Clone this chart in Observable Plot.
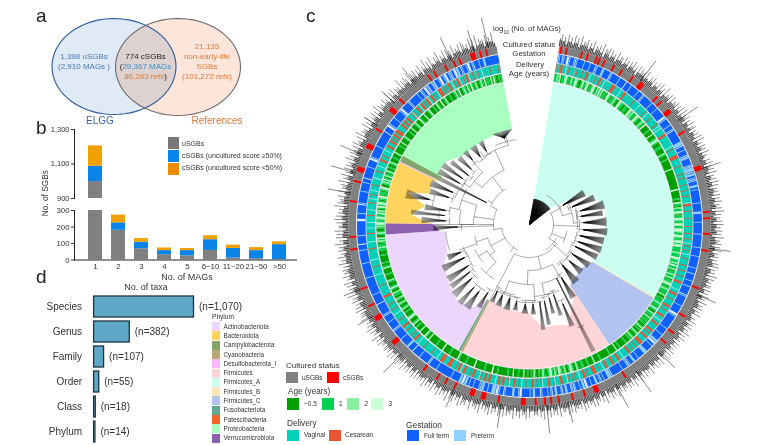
<!DOCTYPE html>
<html><head><meta charset="utf-8">
<script src="https://cdn.jsdelivr.net/npm/d3@7"></script>
<script src="https://cdn.jsdelivr.net/npm/@observablehq/plot@0.6"></script>
<style>
html,body{margin:0;padding:0;background:#fff;overflow:hidden}
body{width:783px;height:445px;position:relative;font-family:"Liberation Sans",Arial,sans-serif;color:#333}
.t{position:absolute;white-space:nowrap;line-height:1}
.s{position:absolute}
.p{position:absolute}
.p svg{display:block;max-width:none;background:transparent;overflow:hidden}
</style></head><body>
<script>
// ---------- DATA ----------
const sgbBins = ["1","2","3","4","5","6~10","11~20","21~50",">50"];
const uSGBs   = [998,180,68,32,25,58,12,8,3];
const cHigh   = [89,45,40,25,32,65,58,49,90];
const cLow    = [118,47,22,16,13,24,20,18,17];
const taxaRanks = ["Species","Genus","Family","Order","Class","Phylum"];
const taxaCounts = [1070,382,107,55,18,14];
const taxaLabels = ["(n=1,070)","(n=382)","(n=107)","(n=55)","(n=18)","(n=14)"];
const phylumNames = ["Actinobacteriota","Bacteroidota","Campylobacterota","Cyanobacteria","Desulfobacterota_I","Firmicutes","Firmicutes_A","Firmicutes_B","Firmicutes_C","Fusobacteriota","Patescibacteria","Proteobacteria","Verrucomicrobiota"];
const phylumColors = ["#ecd6fb","#ffd45e","#83a66c","#b8a878","#ffb3ff","#ffd5d8","#ccfff2","#ffe5b5","#b3c3f0","#66a892","#f26529","#a8ffc0","#9060b0"];
// clockwise sector of each phylum on the tree, degrees from the top
const sectorPhylum = ["Firmicutes_A","Firmicutes_B","Firmicutes_C","Firmicutes","Cyanobacteria","Fusobacteriota","Actinobacteriota","Verrucomicrobiota","Bacteroidota","Desulfobacterota_I","Campylobacterota","Proteobacteria"];
const sectorStart  = [9.5,120.2,120.7,146.4,207.6,208.6,209.5,266,270.5,295.5,296,298.5];
const sectorEnd    = [120.2,120.7,146.4,207.6,208.6,209.5,266,270.5,295.5,296,298.5,349.6];
// how far the tree tips reach at each angle
const reachAngle = [9.5,10,40,53,60,62.6,70,78,92,103.7,114,120.2,130,146.4,150,153,158.7,165,172,181.5,190,198,207.6,209.5,214,223.6,231.6,244.4,251.4,265,266,270.5,272,275,280,284.8,287,294.3,295.5,296,298.5,300,306.6,315.7,329,342.6,349.6];
const reachDepth = [0,26,26,28,59,63,72,77,76,75,76,73,68,73,88,92,108,104,104,88,88,87,86,86,100,105,101,95,87,84,90,97,106,119,106,126,105,107,100,100,100,105,105,96,96,97,97];
// tree: node arcs [depth, from, to], stems [angle, depth0, depth1], tip fans [from, to, node depth, tip depth]
const treeArcs = [[24,62,125],[34,32,75],[44,62,88],[48,72,96],[38,100,118],[30,118,146],[50,122,145],[33,125,207],[46,150,182],[60,150,168],[72,156,176],[60,176,200],[78,176,190],[74,190,207],[28,205,262],[44,232,252],[56,248,258],[50,222,238],[60,232,245],[65,213,228],[36,262,295],[56,270,290],[72,282,296],[70,270.5,282],[43,297,325],[60,308,335],[82,326,345],[70,302,318],[84,252,265]];
const treeStems = [[62,24,34],[75,34,44],[62,44,52],[88,44,48],[92,24,50],[112,24,38],[125,24,33],[130,30,50],[165,33,46],[150,46,60],[168,60,72],[182,46,60],[176,60,78],[200,60,74],[207.5,33,86],[215,28,33],[241,28,44],[252,44,56],[250,56,75],[232,44,50],[238,50,60],[222,50,65],[262,28,36],[268,36,96],[270,36,96],[278,36,56],[290,56,72],[282,72,82],[270,56,70],[295,36,43],[322,43,60],[335,60,82],[345,82,93],[326,82,88],[308,60,70],[318,70,86],[302,70,78],[300,43,48]];
const treeFans = [[9.5,53,0,26],[57,63,32,63],[65,70,40,70],[72,78,46,77],[79,83,52,74],[85,91,54,77],[93,98,50,78],[100,105,46,76],[107,112,42,76],[113.5,118,26,75],[122,127,52,72],[130,135,54,70],[138,144,52,74],[147,151,62,85],[152.5,154,60,142],[156,158.5,76,110],[160,162,74,96],[164,166,76,92],[168,170,78,102],[171.5,173.5,78,106],[176,179,80,90],[181,185,80,89],[188,191,78,87],[193,197,76,88],[199,203,76,87],[204.5,207,74,86],[210,213,80,97],[215,219,84,104],[220,223,84,105],[225,229,76,103],[230,233,72,100],[234,238,68,98],[241,245,72,97],[246,250,74,88],[266.5,269.5,45,96],[271,274,75,108],[275,277,85,119],[278,281,85,106],[282,286,92,127],[287,290,85,105],[291,294.5,80,107],[296,298,48,100],[299,302,75,105],[303,306,75,105],[307.5,310,78,100],[312,315,80,97],[317,320,86,97],[322,326,84,96],[328,331,85,96],[338,349.6,90,97]];
// rings, half-degree tips from 9.5 degrees on
const ageTips = ["bbcbdabbcdbbacbbdcba","abdbbcdabbcdbacbdbca","bbadcbabbcbaacdbbaab","baacdbcbbadcbaabcbad","aaaabaaacaaabcdbaaab","baaaacbaaabaaaaaaaca","aaaaaaaaaaaaaadaaaaa","abaadbbacbbdcabbdcbb","cdbbcdcbbdcbbcdbcdbb","bbcbbbdcbbcbdbbcabbc","bbcabbcdbabcbbabcaab","abbcbbabdbaacbbacbab","babaabcabaacbaabcaba","aabaaaaabaacaaaaabaa","aaaaabaaaacaaaabaaab","baabcaabcdbaacbabcda","bcabdcbaabcbabaabcab","aabaacaaabaaacaaabaa","aaaaabaaadaaaaabaaaa","aaadaaaaaabaaaaabdaa","aaaabaaaaadaaaaabaaa","aaacaabdaaaacaaabaac","baaacdbaaabaacbaabca","abcaabbcaabdbaaabcaa","aabaaaacbaabaaaaabaa","abbcbbabcbdaabcbaabc","bdcbbcdbbdbcabdbcdba","bcdabbabcdaabcbdbacb","abcaabaabcaaabaaacaa","aaabaacaaabcaaaabaac","aaabcaaadbaaacaaabda","aabaacbaadaabcaaabaa","abcabdaabcbacbadbabc","aabcbadabbacadbaabab"].join("");
const deliveryTips = ["rgtrrgtwgrtttggrtttr","gtrrtwttgrttrrgtwtgt","ttrrrtgttwttrrtttgtt","trttttwttgttrtwtttrt","ttttrtwtwttttrrttttt","tttwtrttttrrrtttttrt","ttttrttrttttrtttrttt","rttttwrrtttrttttrttt","ttrttttrtttrttwtrttr","ttwttrttttrtttrtttrt","ttrrttttwttrrtttrttt","trrttrtttrrttwttrrtt","ttrrtrttrrtttrrrttrt","trttrrttttwttrrtttrr","tttrrtwttrttrrrtttrt","rrttwttrtrttrwtttrrt","ttwrttrrtttwrttrttrr","tttrttwtrttrrttwrttr","rtrrtwtttrrtrrttrwtt","trrtrtttrrtwrrtrtttr","rrtttrrrttwttttrtttt","ttrttttwttrrttrttttr","ttrrttttrttttwtttrtt","trtttttrrtttttttrttt","ttttwtttttrttttwtttt","tttrttttwtttttrtttwt","ttwttttrtttwttttrttw","ttrttwtttrttttwttttr","tttwtttrrttrtttwttrr","ttrrtrtrrtrrrtttrrtr","rtrrtttrwrttrrtwrrtr","trrwtrrtrttwrrrtrtrt","rrtwgrtrrwtgrtrrwtgr","tggrttwgttttrtgtttrg"].join("");
const gestationTips = ["wpfwpfwwpffpwpffffpf","ffpfffwpfffppffffwpf","ffffpffffwfffpfffffp","fffwpffffffpffffpfff","fffwwpffffpffpwfffff","fffpppwffpfffwppffff","pwpppwppfpwpffppfpff","ffffffpfffffppfffffp","fffffffpffffffffpfff","ffpfffffffpfffpffffp","fffpfffffwpffffffpff","fffwwpfffffffffpffff","pffffppwwfpffffpppff","ffpffppffpwpfffpffff","fffwpppffpfwpfppffpf","fwwppfpffpwpwffppfwp","ffppfwpfpfffpwfffppf","pfffffwwpffppffffpwf","fpwwpppffpffppwpfffp","ffpfppwwppfffffpffff","ffffffpfffffpwffffff","pfffffwfffppfffffpff","ffffpwfffffpffffwpff","fffffwffffffpfffffff","ffffpfffffffffpfffff","fffpfffwfffffpffffff","fffwwfffpfffffwpffff","fffpfffffpffwfffffff","pffffwwpfffffffpffff","ffffffwfffwwpffffpff","fffpwwfffffwpffffffp","ffwpfwwpwffwppffpwwf","pwwfpwpfwwppfwpffpww","fpwfffpffppfffffffff"].join("");
const cSGBAngles = [10.2,12,17,19,22,23,24.7,28,31,35,45,47,59,86,88,93,98.4,110.7,120.7,127,131,147.8,162,166,170.5,173,175,178,190,204.7,208,211,216,243,249,262,266,277.5,284,302,314,325.8,328,332,335,337,344,346];
const cSGBWideAngles = [38.6,51,71.6,158,182,195,198.7,229,238.5,288,296,309.8,341.5];
const magHeights = ["8c5a3d6b4e7c3f6a9d4b","6e3a8c5f2b9d4c7a3e6b","a4d7b3c8e5a2d6c9b4e7","5b8d3a6c4e7b2f5a8c3d","6a9c4b7d3e5a8c2b6d4a","c3a7b5d2e6a4c8b3d5a7","4b6d3a8c5e2a7b4d6c3a","8a5c3b6d4a7c2e5b3a6c","3d6a4c7b2e5a8c3b6d4a","7b3a5c8d2a6b4e3c7a5b","a4c6b2d7a3e5b8c3a6d4","5a7d3b8c4a6e2b5d7a3c","6b4a8d3c5e7a2d6b4c8a","3e7a5c4b8d2a6e3b7c4a","9c4a6e3b7d5a2f6c3a8d","4d8a5c7e3b6a9d4c2e7a","a5e3c8b4d6a2f7c4b9a5","6c3e9a4d7b3e5a8c2d6b","d4a7c3e8b5a3f6c9a4e7","5b9c3e6a4d8b3f5a7c4e","7a4d2b6c3e5a8b4c2d6a","3c7b4e2a8d5b3c6e4a7b","b5a8d3c6f2a7c4e8b3a6","4d6b9a3e5c7a2d8b4f6a","8b3c6e2a7d5b9c4a3e6b","5e7a4c8b3f6a2d7c5e3a","a6c3e8d4b7a5f2c9a6d4","7d4a9c5f3b8e2a6d4c8a","4f7b3d9a6c2e8a5d3g7b","9a5e3c7g4a8d2b6f3c9a","6d8a4f2c7e3b9a5g4c8d","a3f6c9d4b7e2a8g5c3f7","5c8g3a7e4d9b3f6a8d4e","b7a4f8d3g5c9a3e7b6f4"].join("");
const tallMagAngles  = [37.7,55,72,97.6,112.8,134.6,144,151.6,167.7,174.5,189,204.6,224.6,239.6,249,280,286.5,292.7,303,312,321,334.5,342.3,346.9];
const tallMagHeights = [26,24,20,22,21,23,26,27,22,29,25,20,27,18,18,24,26,24,15,18,21,26,23,31];
const ringCats = ["uSGBs","cSGBs","~0.5","1","2","3","Vaginal","Cesarean","Full term","Preterm","paleDelivery","paleGestation","mixed"];
const ringColors = ["#808080","#ff0000","#00a000","#00d050","#88f0a0","#ccffd8","#00d0b8","#e85535","#1060ff","#90d0ff","#b5efe6","#dcecff","#6fb0a4"];

// ---------- HELPERS ----------
const FONT = '"Liberation Sans",Arial,sans-serif';
const body = document.body;
function text(str,x,y,size,o={}){
  const d=document.createElement("div");d.className="t";d.innerHTML=str;
  d.style.fontSize=size+"px";d.style.color=o.color||"#333";
  d.style.top=(y-size/2)+"px";
  if(o.anchor==="middle"){d.style.left=x+"px";d.style.transform="translateX(-50%)"}
  else d.style.left=x+"px";
  if(o.rotate){d.style.left=x+"px";d.style.transform="translate(-50%,0) rotate(-90deg)"}
  body.appendChild(d);
}
function swatch(x,y,w,h,c){const d=document.createElement("div");d.className="s";
  Object.assign(d.style,{left:x+"px",top:y+"px",width:w+"px",height:h+"px",background:c});body.appendChild(d)}
function place(fig,x,y){const d=document.createElement("div");d.className="p";d.style.left=x+"px";d.style.top=y+"px";d.appendChild(fig);body.appendChild(d)}
const style={fontFamily:FONT,background:"transparent",color:"#333"};

// ---------- a: Venn ----------
function ellipse(name,cx,cy,rx,ry){return d3.range(0,73).map(i=>({name,x:cx+rx*Math.cos(i*Math.PI/36),y:cy+ry*Math.sin(i*Math.PI/36)}))}
const refs=ellipse("References",177.5,66.5,62.5,48.5), elgg=ellipse("ELGG",113.5,66,62,48);
place(Plot.plot({width:290,height:130,margin:0,style,
  x:{domain:[0,290],axis:null},y:{domain:[130,0],axis:null},
  marks:[
   Plot.line(refs,{x:"x",y:"y",fill:"#fde6d9",stroke:"none",mixBlendMode:"multiply"}),
   Plot.line(elgg,{x:"x",y:"y",fill:"#e0e9f6",stroke:"none",mixBlendMode:"multiply"}),
   Plot.line(elgg,{x:"x",y:"y",stroke:"#2c5a9c",strokeWidth:1.1}),
   Plot.line(refs,{x:"x",y:"y",stroke:"#6a6a6a",strokeWidth:1.1})
  ]}),0,0);
const BLUE="#4a7cb8",ORG="#e07a3a";
text("a",36,15,19,{color:"#222"});
text("1,398 uSGBs",84,57,8,{anchor:"middle",color:BLUE});
text("(2,910 MAGs )",84,66.5,8,{anchor:"middle",color:BLUE});
text("774 cSGBs",145.5,57,8,{anchor:"middle",color:"#222"});
text('(<span style="color:#3a8fc8">29,367 MAGs</span>',145.5,66.5,8,{anchor:"middle",color:"#222"});
text('<span style="color:#e07a3a">86,283 refs</span>)',145.5,77,8,{anchor:"middle",color:"#222"});
text("21,135",207,47,8,{anchor:"middle",color:ORG});
text("non-early-life",207,57,8,{anchor:"middle",color:ORG});
text("SGBs",207,67,8,{anchor:"middle",color:ORG});
text("(101,272 refs)",207,77,8,{anchor:"middle",color:ORG});
text("ELGG",100,121,10,{anchor:"middle",color:"#3a66ac"});
text("References",217,121,10,{anchor:"middle",color:"#e0763a"});

// ---------- b: broken stacked bars ----------
const sgbRows=sgbBins.flatMap((b,i)=>[{bin:b,series:"uSGBs",n:uSGBs[i]},{bin:b,series:"high",n:cHigh[i]},{bin:b,series:"low",n:cLow[i]}]);
const barColor={domain:["uSGBs","high","low"],range:["#808080","#0a84e8","#f0a000"]};
const xBins={domain:sgbBins,range:[76.2,297.3],padding:0.4};
const commaFormat=d=>d3.format(",")(d);
place(Plot.plot({width:300,height:86,marginLeft:74,marginRight:3,marginTop:9,marginBottom:8,style:{...style,fontSize:"7.5px"},
  x:{...xBins,axis:null},color:barColor,
  y:{domain:[900,1300],ticks:[900,1100,1300],tickFormat:commaFormat,label:null,tickSize:3,tickPadding:2},
  marks:[Plot.barY(sgbRows,{x:"bin",y:"n",fill:"series",clip:true}),Plot.frame({anchor:"left",stroke:"#222"})]}),0,120);
place(Plot.plot({width:300,height:70,marginLeft:74,marginRight:3,marginTop:5,marginBottom:15.5,style:{...style,fontSize:"7.8px"},
  x:{...xBins,label:null,tickSize:0,tickPadding:3},color:barColor,
  y:{domain:[0,300],ticks:[0,100,200,300],label:null,tickSize:3,tickPadding:2},
  marks:[Plot.barY(sgbRows,{x:"bin",y:"n",fill:"series",clip:true}),Plot.frame({anchor:"left",stroke:"#222"}),Plot.ruleY([0],{stroke:"#222",strokeWidth:1.1})]}),0,205);
text("b",36,127,19,{color:"#222"});
text("No. of SGBs",45,193,8.3,{rotate:true});
text("No. of MAGs",187,277,9,{anchor:"middle"});
swatch(168,137,11,12,"#777");swatch(168,150,11,12,"#0a84ea");swatch(168,163,11,12,"#ea8c00");
text("uSGBs",182,143,7);text("cSGBs (uncultured score ≥50%)",182,155,7);text("cSGBs (uncultured score &lt;50%)",182,167,7);

// ---------- d: taxa bars ----------
const taxa=taxaRanks.map((rank,i)=>({rank,n:taxaCounts[i],label:taxaLabels[i]}));
place(Plot.plot({width:300,height:160,marginLeft:93.6,marginRight:106.5,marginTop:0,marginBottom:0,style:{...style,fontSize:"10px"},
  x:{domain:[0,1070],axis:null},
  y:{domain:taxaRanks,range:[5.2,162.8],padding:0.18,label:null,tickSize:0,tickPadding:12},
  marks:[
   Plot.barX(taxa,{x:"n",y:"rank",fill:"#5fa8c8",stroke:"#1d3340",strokeWidth:1.3}),
   Plot.text(taxa,{x:"n",y:"rank",text:"label",textAnchor:"start",dx:5,fontSize:10,fill:"#333"})
  ]}),0,285);
text("d",36,276,19,{color:"#222"});
text("No. of taxa",146,287,9,{anchor:"middle"});
text("Phylum",212,317,6.6);
phylumNames.forEach((n,i)=>{swatch(211.7,322+i*9.3,8.6,9.1,phylumColors[i]);text(n,223.5,326.8+i*9.3,6.3)});

// ---------- c: circular tree ----------
const rad=a=>a*Math.PI/180;
const px=(a,r)=>r*Math.sin(rad(a)), py=(a,r)=>-r*Math.cos(rad(a));
const RINGS={age:[145,153],delivery:[154.5,163],gestation:[164,172.5],cultured:[173.5,181],sector:144};
let pid=0;
function sectorPoly(a0,a1,r0,r1,cat,out){const id=pid++,n=Math.max(1,Math.ceil((a1-a0)/2));
  for(let i=0;i<=n;i++){const a=a0+(a1-a0)*i/n;out.push({id,cat,x:px(a,r1),y:py(a,r1)})}
  for(let i=n;i>=0;i--){const a=a0+(a1-a0)*i/n;out.push({id,cat,x:px(a,r0),y:py(a,r0)})}}
// each ring: a base of its commonest class, the other tips drawn as thin streaks on it
function ringPolys(str,map,[r0,r1],out,base,shrink){const step=340/str.length;let s=0;
  if(base) sectorPoly(9.5,349.5,r0,r1,map[base],out);
  for(let i=1;i<=str.length;i++){if(i===str.length||str[i]!==str[s]){
    if(str[s]!==base) sectorPoly(9.5+(s+shrink)*step,9.5+(i-shrink)*step,r0,r1,map[str[s]],out);
    s=i}}}
const cellsOut=[];
// phylum sectors
const reach=d3.scaleLinear(reachAngle,reachDepth);
const sectors=[];
sectorPhylum.forEach((name,i)=>{const a0=sectorStart[i],a1=sectorEnd[i],id="s"+i;
  const m=Math.ceil((a1-a0)/2);
  d3.range(m+1).map(k=>a0+(a1-a0)*k/m).forEach(a=>sectors.push({id,name,x:px(a,RINGS.sector),y:py(a,RINGS.sector)}));
  [a1,...reachAngle.filter(a=>a>a0&&a<a1).reverse(),a0].forEach(a=>sectors.push({id,name,x:px(a,reach(a)),y:py(a,reach(a))}));
});
// rings
sectorPoly(9.5,349.5,...RINGS.cultured,"uSGBs",cellsOut);
cSGBAngles.forEach(a=>sectorPoly(a-.3,a+.3,...RINGS.cultured,"cSGBs",cellsOut));
cSGBWideAngles.forEach(a=>sectorPoly(a-.8,a+.8,...RINGS.cultured,"cSGBs",cellsOut));
ringPolys(gestationTips,{f:"Full term",p:"Preterm",w:"paleGestation"},RINGS.gestation,cellsOut,"f",0.2);
ringPolys(deliveryTips,{t:"Vaginal",r:"Cesarean",w:"paleDelivery",g:"mixed"},RINGS.delivery,cellsOut,"t",0.2);
ringPolys(ageTips,{a:"~0.5",b:"1",c:"2",d:"3"},RINGS.age,cellsOut,null,0);
// spikes
const spikeAngle=[],spikeLen=[];
[...magHeights].forEach((c,i)=>{spikeAngle.push(9.5+i*340/magHeights.length);spikeLen.push(parseInt(c,36))});
tallMagAngles.forEach((a,i)=>{spikeAngle.push(a);spikeLen.push(tallMagHeights[i])});
const spikes=spikeAngle.map((a,i)=>({a,l:spikeLen[i]}));
// ring outlines
const outlines=[];
[RINGS.age,RINGS.delivery,RINGS.gestation].forEach((r,k)=>r.forEach((rr,j)=>{d3.range(9.5,350,2).forEach(a=>outlines.push({id:k*2+j,x:px(a,rr),y:py(a,rr)}))}));
// tree
const fanArcs=treeFans.slice(1).map(([a0,a1,rn,rt])=>[Math.max(rn,rt-24)-4,a0-1,a1+1]);
const fanStems=treeFans.slice(1).map(([a0,a1,rn,rt])=>[(a0+a1)/2,Math.max(rn,rt-24)-4,Math.max(rn,rt-24)]);
const arcsPts=[...treeArcs,...fanArcs].flatMap(([r,a0,a1],i)=>{const n=Math.max(1,Math.ceil((a1-a0)/3));return d3.range(n+1).map(k=>{const a=a0+(a1-a0)*k/n;return {id:i,x:px(a,r),y:py(a,r)}})});
const stems=[...treeStems,...fanStems].map(([a,r0,r1])=>({x1:px(a,r0),y1:py(a,r0),x2:px(a,r1),y2:py(a,r1)}));
const fans=treeFans.flatMap(([a0,a1,rn,rt])=>{const am=(a0+a1)/2,n=Math.max(4,Math.round((a1-a0)/0.33));
  const node=(a1-a0<2.5||a0===9.5)?rn:Math.max(rn,rt-24);
  return d3.range(n+1).map(k=>{const a=a0+(a1-a0)*k/n;return {x1:px(am,node),y1:py(am,node),x2:px(a,rt),y2:py(a,rt)}})});
const allCats=[...phylumNames,...ringCats], allColors=[...phylumColors,...ringColors];
place(Plot.plot({width:440,height:445,margin:0,style,
  x:{domain:[-219,221],axis:null},y:{domain:[221,-224],axis:null},
  color:{type:"ordinal",domain:allCats,range:allColors},
  marks:[
   Plot.line(sectors,{x:"x",y:"y",z:"id",fill:"name",stroke:"none"}),
   Plot.link(spikes,{x1:d=>px(d.a,181),y1:d=>py(d.a,181),x2:d=>px(d.a,181+d.l),y2:d=>py(d.a,181+d.l),stroke:"#3a3a3a",strokeWidth:0.7,strokeOpacity:0.85}),
   Plot.link(spikes,{x1:d=>px(d.a,181),y1:d=>py(d.a,181),x2:d=>px(d.a,181+Math.min(d.l,6)),y2:d=>py(d.a,181+Math.min(d.l,6)),stroke:"#333",strokeWidth:1.1,strokeOpacity:0.8}),
   Plot.line(outlines,{x:"x",y:"y",z:"id",stroke:"#999",strokeWidth:0.5}),
   Plot.line(cellsOut,{x:"x",y:"y",z:"id",fill:"cat",stroke:"none"}),
   Plot.link(fans,{x1:"x1",y1:"y1",x2:"x2",y2:"y2",stroke:"#000",strokeWidth:0.28}),
   Plot.link(stems,{x1:"x1",y1:"y1",x2:"x2",y2:"y2",stroke:"#444",strokeWidth:0.45}),
   Plot.line(arcsPts,{x:"x",y:"y",z:"id",stroke:"#444",strokeWidth:0.45})
  ]}),310,0);
text("c",306,15,19,{color:"#222"});
text("log<sub style='font-size:5px;line-height:0'>10</sub> (No. of MAGs)",527,29,7.8,{anchor:"middle"});
text("Cultured status",529,44.5,7.8,{anchor:"middle"});
text("Gestation",529,54,7.8,{anchor:"middle"});
text("Delivery",530,65,7.8,{anchor:"middle"});
text("Age (years)",529,74,7.8,{anchor:"middle"});

// legends
text("Cultured status",286,366,8);
swatch(286,372,12,11,"#808080");text("uSGBs",302,378,6.5);swatch(327,372,12,11,"#ff0000");text("cSGBs",343,378,6.5);
text("Age (years)",288,392,8.2);
swatch(287,398,12,12,"#00a000");text("~0.5",304,404.5,6.5);
swatch(322,398,12,12,"#00d050");text("1",339,404.5,6.5);
swatch(347,398,12,12,"#88f0a0");text("2",364.5,404.5,6.5);
swatch(371,398,12,12,"#ccffd8");text("3",388.5,404.5,6.5);
text("Delivery",287,424,8.2);
swatch(287,430,12,11,"#00d0b8");text("Vaginal",304,435.5,6.5);
swatch(329,430,12,11,"#e85535");text("Cesarean",345,435.5,6.5);
text("Gestation",406,425,8.4);
swatch(407,430,12,11,"#1060ff");text("Full term",424,436,6.5);
swatch(454,430,12,11,"#90d0ff");text("Preterm",471,436,6.5);
</script>
</body></html>
